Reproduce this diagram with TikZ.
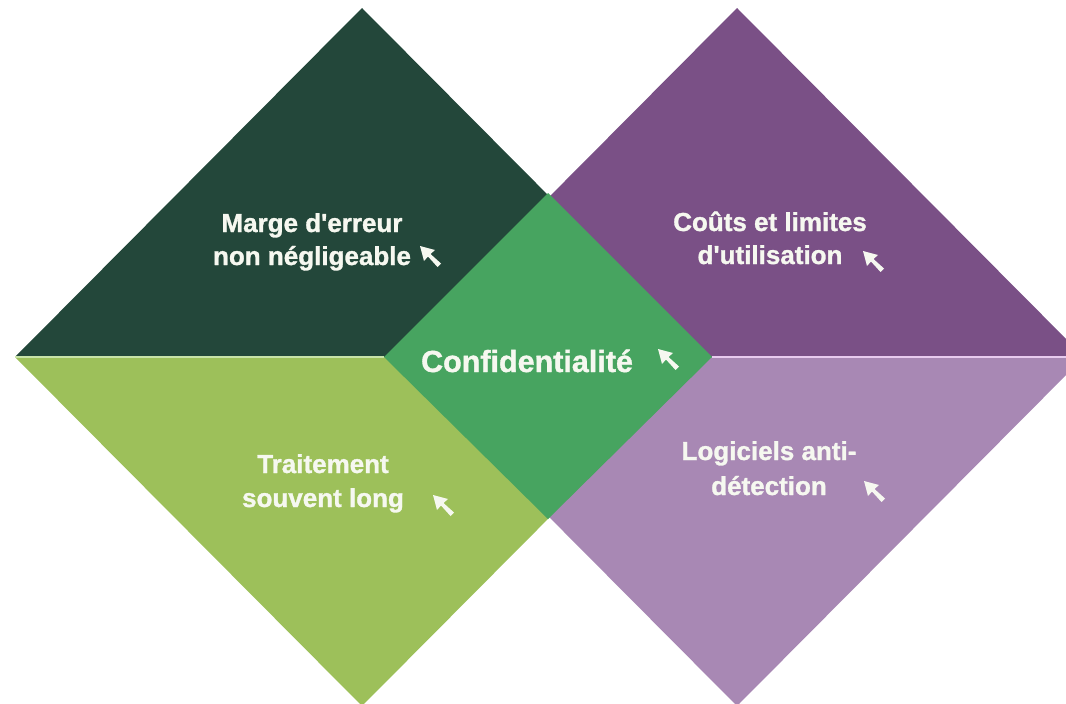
\documentclass[tikz,border=0pt]{standalone}
\usepackage{fontspec}
\setmainfont{Liberation Sans}[BoldFeatures={FakeBold=1.2}]
\definecolor{dgreen}{HTML}{23473A}
\definecolor{lgreen}{HTML}{9DC05A}
\definecolor{cgreen}{HTML}{47A460}
\definecolor{dpurple}{HTML}{7A5086}
\definecolor{lpurple}{HTML}{A888B4}
\definecolor{lgline}{HTML}{C8E3A8}
\definecolor{lpline}{HTML}{E8CBEF}
\definecolor{txt}{HTML}{F6F8F0}
\begin{document}
\begin{tikzpicture}[x=1pt,y=-1pt,
  lbl/.style={text=txt,font=\fontsize{26}{30}\selectfont\bfseries,anchor=base,inner sep=0pt},
  clbl/.style={text=txt,font=\fontsize{30.5}{34}\selectfont\bfseries,anchor=base,inner sep=0pt},
  sep/.style={line width=2pt}]
\useasboundingbox (0,0) rectangle (1066,704);
\clip (0,0) rectangle (1066,704);
\newcommand{\mycursor}[1]{\fill[txt,shift={#1}] (0,0) -- (15,4) -- (10.5,8) -- (21,17.5) -- (17.5,21) -- (8,10.5) -- (4,15) -- cycle;}
% coordinates
\coordinate (Lw) at (15,357);
\coordinate (Ln) at (362,8);
\coordinate (Le) at (709,357);
\coordinate (Ls) at (362,706);
\coordinate (Rw) at (390,357);
\coordinate (Rn) at (737,8);
\coordinate (Re) at (1084,357);
\coordinate (Rs) at (737,706);
\coordinate (Cw) at (384,357);
\coordinate (Cn) at (548,193);
\coordinate (Ce) at (712,357);
\coordinate (Cs) at (548,519);
% big diamonds
\fill[dgreen] (Lw) -- (Ln) -- (Le) -- cycle;
\fill[lgreen] (Lw) -- (Le) -- (Ls) -- cycle;
\fill[dpurple] (Rw) -- (Rn) -- (Re) -- cycle;
\fill[lpurple] (Rw) -- (Re) -- (Rs) -- cycle;
% center diamond
\fill[cgreen] (Cw) -- (Cn) -- (Ce) -- (Cs) -- cycle;
% separators
\draw[sep,lgline] (Lw) -- (Cw);
\draw[sep,lpline] (Ce) -- (Re);
% labels
\node[lbl] (m1) at (312,232) {Marge d\textquotesingle erreur};
\node[lbl] (m2) at (312,265) {non négligeable};
\node[lbl] (c1) at (770,231) {Coûts et limites};
\node[lbl] (c2) at (770,264) {d\textquotesingle utilisation};
\node[clbl] (cc) at (527,372) {Confidentialité};
\node[lbl] (t1) at (323,473) {Traitement};
\node[lbl] (t2) at (323,507) {souvent long};
\node[lbl] (g1) at (769,460) {Logiciels anti-};
\node[lbl] (g2) at (769,495) {détection};
% cursors
\mycursor{(420,246)}
\mycursor{(863,251)}
\mycursor{(658,349)}
\mycursor{(433,495)}
\mycursor{(864,481)}
\end{tikzpicture}
\end{document}
